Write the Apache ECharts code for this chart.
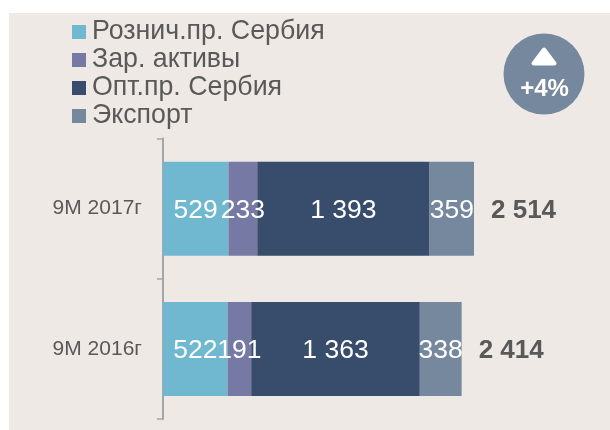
<!DOCTYPE html>
<html><head><meta charset="utf-8">
<style>html,body{margin:0;padding:0;background:#fff}#c{width:610px;height:430px}</style>
<script src="https://cdn.jsdelivr.net/npm/echarts@6/dist/echarts.min.js"></script>
</head><body><div id="c"></div>
<script>
const categories = ['9M 2016г', '9M 2017г'];
const retail = [522, 529];
const assets = [191, 233];
const wholesale = [1363, 1393];
const exportSales = [338, 359];
const totals = [2414, 2514];
const names = ['Рознич.пр. Сербия', 'Зар. активы', 'Опт.пр. Сербия', 'Экспорт'];
const colors = ['#70B8CF', '#7779A5', '#384D6B', '#75889E'];
const grey = '#595959';
const fmt = v => String(v).replace(/\B(?=(\d{3})+$)/g, ' ');
const font = '"Liberation Sans", Arial, sans-serif';
const seg = (name, data, color) => ({
  name, type: 'bar', stack: 't', data, barWidth: 94, itemStyle: { color },
  label: { show: true, position: 'inside', offset: [0, 2], color: '#fff', fontSize: 26.5, fontFamily: font,
    formatter: p => fmt(p.value) }
});
const chart = echarts.init(document.getElementById('c'), null, { renderer: 'canvas' });
chart.setOption({
  animation: false,
  textStyle: { fontFamily: font },
  graphic: [
    { type: 'rect', z: -10, shape: { x: 9, y: 13, width: 601, height: 417 }, style: { fill: '#EEE9E5' } },
    { type: 'circle', z: 100, shape: { cx: 544, cy: 74, r: 40.5 }, style: { fill: '#75889E' } },
    { type: 'polygon', z: 101, shape: { points: [[544, 49.5], [533.5, 63.5], [554.5, 63.5]] },
      style: { fill: '#fff', stroke: '#fff', lineWidth: 4, lineJoin: 'round' } },
    { type: 'text', z: 101, style: { x: 544.5, y: 89, text: '+4%', fill: '#fff', font: 'bold 24px ' + font, align: 'center', verticalAlign: 'middle' } }
  ],
  legend: {
    data: names, orient: 'vertical', left: 72, top: 18, padding: 0, itemGap: 0, itemWidth: 14, itemHeight: 14,
    icon: 'rect', selectedMode: false,
    textStyle: { color: grey, fontSize: 26.75, fontFamily: font, lineHeight: 28, padding: [0, 0, 0, 1] }
  },
  grid: { left: 163, top: 138.5, width: 311, height: 280.5 },
  xAxis: { type: 'value', min: 0, max: totals[1], show: false },
  yAxis: {
    type: 'category', data: categories, offset: 1,
    axisLine: { lineStyle: { color: '#A6A6A6', width: 2 } },
    axisTick: { show: true, length: 6, lineStyle: { color: '#A6A6A6', width: 1.5 } },
    axisLabel: { color: grey, fontSize: 21, margin: 20, fontFamily: font }
  },
  series: [
    seg(names[0], retail, colors[0]),
    seg(names[1], assets, colors[1]),
    seg(names[2], wholesale, colors[2]),
    seg(names[3], exportSales, colors[3]),
    { name: 'Итого', type: 'bar', stack: 't', data: totals.map(() => 0), barWidth: 94,
      itemStyle: { color: 'transparent' },
      label: { show: true, position: 'right', distance: 17, offset: [0, 2], color: grey, fontWeight: 'bold', fontSize: 26, fontFamily: font,
        formatter: p => fmt(totals[p.dataIndex]) } }
  ]
});
</script></body></html>
